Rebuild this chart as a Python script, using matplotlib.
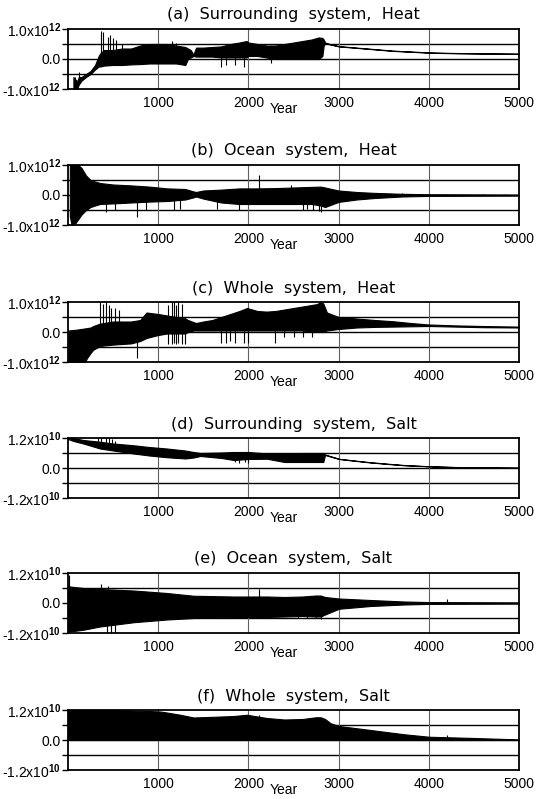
import matplotlib
matplotlib.use("Agg")
import numpy as np
import matplotlib.pyplot as plt

plt.rcParams['font.family'] = ['Liberation Sans', 'DejaVu Sans']
plt.rcParams['mathtext.fontset'] = 'custom'
plt.rcParams['mathtext.rm'] = 'Liberation Sans'
plt.rcParams['mathtext.bf'] = 'Liberation Sans:bold'

# ---- (a) Surrounding system, Heat  (units 1e12) ----
a_years = [60, 100, 120, 150, 200, 250, 300, 340, 360, 400, 500, 600, 700, 800, 900, 1000, 1100,
           1200, 1300, 1330, 1360, 1390, 1420, 1500, 1600, 1700, 1800, 1900, 1980, 2000, 2100,
           2200, 2300, 2400, 2500, 2600, 2700, 2780, 2820, 2835, 2850, 2900, 3000, 3200, 3400,
           3600, 3800, 4000, 4300, 4600, 5000]
a_upper = [-0.6, -0.75, -0.6, -0.6, -0.5, -0.4, -0.2, 0.1, 0.2, 0.3, 0.3, 0.35, 0.35, 0.45, 0.5,
           0.5, 0.5, 0.45, 0.4, 0.35, 0.3, 0.15, 0.38, 0.38, 0.4, 0.42, 0.5, 0.55, 0.6, 0.55, 0.5,
           0.45, 0.45, 0.5, 0.55, 0.6, 0.65, 0.72, 0.7, 0.65, 0.55, 0.5, 0.43, 0.38, 0.33,
           0.28, 0.25, 0.22, 0.2, 0.19, 0.18]
a_lower = [-1.0, -1.0, -0.85, -0.72, -0.6, -0.5, -0.35, -0.25, -0.25, -0.22, -0.2, -0.2, -0.18,
           -0.17, -0.15, -0.15, -0.15, -0.15, -0.2, 0.0, 0.05, 0.1, 0.08, 0.08, 0.08, 0.05, 0.05,
           0.05, 0.05, 0.1, 0.1, 0.05, 0.0, 0.0, 0.0, 0.0, 0.0, 0.0, 0.1, 0.45, 0.53, 0.49, 0.42,
           0.37, 0.32, 0.27, 0.24, 0.21, 0.19, 0.18, 0.17]
a_spike_years = [80, 125, 370, 390, 440, 470, 500, 530, 600, 1150, 1200, 1700, 1750, 1850, 1950, 2250]
a_spike_tops = [-0.6, -0.42, 0.95, 0.9, 0.75, 0.8, 0.7, 0.65, 0.5, 0.6, 0.55, 0.3, 0.3, 0.4, 0.5, 0.4]
a_spike_bottoms = [-1.0, -0.8, -0.1, -0.1, -0.1, -0.1, -0.1, -0.1, -0.1, -0.1, -0.1, -0.25, -0.2,
                   -0.2, -0.25, -0.12]

# ---- (b) Ocean system, Heat (units 1e12) ----
b_years = [20, 40, 80, 115, 150, 200, 250, 300, 355, 500, 700, 900, 1100, 1300, 1390, 1420, 1500,
           1700, 1900, 2100, 2300, 2500, 2700, 2800, 2850, 3000, 3200, 3400, 3700, 4000, 4500, 5000]
b_upper = [1.0, 1.0, 1.0, 1.0, 0.9, 0.65, 0.5, 0.45, 0.4, 0.35, 0.32, 0.28, 0.22, 0.2, 0.12, 0.1,
           0.15, 0.18, 0.22, 0.22, 0.23, 0.25, 0.27, 0.28, 0.25, 0.15, 0.1, 0.07, 0.04, 0.025, 0.02,
           0.015]
b_lower = [-0.7, -1.0, -0.95, -0.8, -0.65, -0.5, -0.4, -0.35, -0.3, -0.28, -0.25, -0.22, -0.2,
           -0.15, -0.08, -0.05, -0.12, -0.25, -0.3, -0.3, -0.3, -0.3, -0.3, -0.35, -0.4, -0.23,
           -0.15, -0.1, -0.05, -0.03, -0.025, -0.02]
b_spike_years = [420, 520, 760, 870, 1170, 1240, 1650, 1900, 2115, 2470, 2600, 2650, 2720, 2780,
                 2810, 3500, 3700, 3850, 4200, 4600, 4850]
b_spike_tops = [0.0, 0.0, 0.0, 0.0, 0.0, 0.0, 0.0, 0.0, 0.68, 0.35, 0.0, 0.0, 0.0, 0.0, 0.0, 0.08,
                0.06, 0.05, 0.05, 0.04, 0.04]
b_spike_bottoms = [-0.57, -0.5, -0.72, -0.5, -0.5, -0.45, -0.45, -0.5, 0.0, 0.0, -0.5, -0.45,
                   -0.5, -0.52, -0.55, 0.0, 0.0, 0.0, 0.0, 0.0, 0.0]

# ---- (c) Whole system, Heat (units 1e12) ----
c_years = [5, 100, 190, 210, 250, 280, 355, 400, 500, 600, 700, 800, 870, 1000, 1100, 1200, 1300,
           1330, 1390, 1420, 1500, 1600, 1700, 1800, 1900, 1985, 2100, 2200, 2300, 2400, 2500,
           2600, 2700, 2760, 2800, 2830, 2870, 3000, 3200, 3400, 3600, 3800, 4000, 4300, 4600, 5000]
c_upper = [0.05, 0.08, 0.12, 0.13, 0.15, 0.2, 0.28, 0.3, 0.35, 0.35, 0.35, 0.4, 0.65, 0.6, 0.55,
           0.5, 0.45, 0.4, 0.33, 0.3, 0.35, 0.4, 0.5, 0.6, 0.7, 0.8, 0.7, 0.68, 0.7, 0.75, 0.8,
           0.85, 0.9, 0.93, 1.0, 0.95, 0.65, 0.5, 0.45, 0.4, 0.36, 0.3, 0.25, 0.22, 0.2, 0.18]
c_lower = [-1.0, -1.0, -1.0, -0.87, -0.7, -0.59, -0.47, -0.45, -0.42, -0.4, -0.38, -0.3, -0.2,
           -0.1, -0.05, -0.05, -0.05, 0.0, 0.05, 0.05, 0.05, 0.05, 0.05, 0.05, 0.05, 0.05, 0.05,
           0.05, 0.05, 0.05, 0.05, 0.05, 0.0, 0.0, 0.0, 0.0, 0.05, 0.1, 0.15, 0.17, 0.18, 0.19,
           0.2, 0.18, 0.16, 0.15]
c_spike_years = [355, 385, 420, 450, 480, 520, 560, 765, 1110, 1150, 1170, 1200, 1220, 1260, 1300,
                 1700, 1750, 1800, 1850, 1950, 2000, 2290, 2400, 2500, 2600, 2700]
c_spike_tops = [1.0, 0.95, 1.0, 0.9, 0.8, 0.8, 0.75, 0.0, 0.9, 1.0, 1.0, 0.9, 1.0, 0.95, 0.5,
                0.3, 0.3, 0.4, 0.4, 0.5, 0.5, 0.3, 0.3, 0.3, 0.3, 0.3]
c_spike_bottoms = [-0.3, -0.3, -0.3, -0.3, -0.3, -0.3, -0.3, -0.87, -0.4, -0.4, -0.35, -0.4,
                   -0.35, -0.4, -0.4, -0.36, -0.36, -0.3, -0.36, -0.36, -0.36, -0.36, -0.18,
                   -0.18, -0.18, -0.18]

# ---- (d) Surrounding system, Salt (units 1e10) ----
d_years = [0, 60, 170, 355, 500, 726, 900, 1096, 1300, 1393, 1467, 1700, 1837, 2000, 2207, 2400,
           2600, 2800, 2830, 2850, 3004, 3200, 3355, 3550, 3726, 4004, 4300, 4600, 5000]
d_upper = [1.2, 1.2, 1.12, 1.05, 0.98, 0.91, 0.84, 0.78, 0.7, 0.64, 0.6, 0.62, 0.64, 0.64, 0.58,
           0.58, 0.6, 0.6, 0.6, 0.54, 0.37, 0.29, 0.23, 0.17, 0.12, 0.07, 0.04, 0.025, 0.012]
d_lower = [1.16, 1.08, 0.98, 0.78, 0.7, 0.58, 0.5, 0.43, 0.38, 0.42, 0.48, 0.4, 0.32, 0.36, 0.37,
           0.24, 0.24, 0.24, 0.24, 0.52, 0.36, 0.28, 0.22, 0.16, 0.11, 0.065, 0.035, 0.02, 0.01]
d_spike_years = [330, 370, 420, 460, 490, 520, 1850, 1900, 1960, 2000]
d_spike_tops = [1.2, 1.2, 1.2, 1.2, 1.15, 1.1, 0.6, 0.6, 0.6, 0.6]
d_spike_bottoms = [0.8, 0.8, 0.8, 0.8, 0.8, 0.8, 0.24, 0.22, 0.24, 0.22]

# ---- (e) Ocean system, Salt (units 1e10) ----
e_years = [0, 20, 170, 355, 726, 1096, 1393, 1837, 2207, 2400, 2600, 2750, 2800, 2850, 3004,
           3355, 3726, 4004, 4500, 5000]
e_upper = [0.72, 0.66, 0.6, 0.56, 0.5, 0.4, 0.29, 0.26, 0.26, 0.24, 0.26, 0.3, 0.3, 0.24, 0.18,
           0.12, 0.06, 0.036, 0.03, 0.024]
e_lower = [-1.2, -1.14, -1.07, -0.94, -0.77, -0.66, -0.6, -0.56, -0.56, -0.54, -0.52, -0.54,
           -0.54, -0.46, -0.23, -0.12, -0.06, -0.036, -0.03, -0.024]
e_spike_years = [10, 370, 440, 430, 480, 520, 2115, 2550, 2650, 2750, 2800, 4207]
e_spike_tops = [1.13, 0.76, 0.7, 0.0, 0.0, 0.0, 0.56, 0.0, 0.0, 0.0, 0.0, 0.18]
e_spike_bottoms = [0.0, 0.0, 0.0, -1.2, -1.2, -1.2, 0.0, -0.6, -0.6, -0.6, -0.62, 0.0]

# ---- (f) Whole system, Salt (units 1e10) ----
f_years = [0, 540, 700, 900, 1022, 1096, 1244, 1393, 1467, 1700, 1837, 1985, 2100, 2207, 2400,
           2600, 2748, 2800, 2850, 2911, 3004, 3355, 3726, 4004, 4470, 5000]
f_upper = [1.2, 1.2, 1.18, 1.16, 1.14, 1.1, 1.01, 0.9, 0.91, 0.94, 0.96, 1.01, 0.94, 0.88, 0.82,
           0.84, 0.91, 0.91, 0.84, 0.67, 0.56, 0.4, 0.23, 0.13, 0.084, 0.024]
f_lower = [0.0] * len(f_years)
f_spike_years = [2115, 4207]
f_spike_tops = [1.0, 0.22]
f_spike_bottoms = [0.0, 0.0]

panels = [
    ("(a)  Surrounding  system,  Heat", a_years, a_upper, a_lower,
     a_spike_years, a_spike_tops, a_spike_bottoms, 1.0, "1.0", "12"),
    ("(b)  Ocean  system,  Heat", b_years, b_upper, b_lower,
     b_spike_years, b_spike_tops, b_spike_bottoms, 1.0, "1.0", "12"),
    ("(c)  Whole  system,  Heat", c_years, c_upper, c_lower,
     c_spike_years, c_spike_tops, c_spike_bottoms, 1.0, "1.0", "12"),
    ("(d)  Surrounding  system,  Salt", d_years, d_upper, d_lower,
     d_spike_years, d_spike_tops, d_spike_bottoms, 1.2, "1.2", "10"),
    ("(e)  Ocean  system,  Salt", e_years, e_upper, e_lower,
     e_spike_years, e_spike_tops, e_spike_bottoms, 1.2, "1.2", "10"),
    ("(f)  Whole  system,  Salt", f_years, f_upper, f_lower,
     f_spike_years, f_spike_tops, f_spike_bottoms, 1.2, "1.2", "10"),
]

W, H = 537, 799
fig = plt.figure(figsize=(W / 100, H / 100), dpi=100)
tops = [29, 165, 302, 438, 573, 710]
ax_h = 60
left, right = 68, 519

for (title, yrs, up, lo, sy, st, sb, lim, mant, ex), top in zip(panels, tops):
    ax = fig.add_axes([left / W, 1 - (top + ax_h) / H, (right - left) / W, ax_h / H])
    ax.set_xlim(0, 5000)
    ax.set_ylim(-lim, lim)
    for yv in (-lim / 2, 0, lim / 2):
        ax.axhline(yv, color='black', lw=1.0, zorder=1)
    for xv in (1000, 2000, 3000, 4000):
        ax.axvline(xv, color='#606060', lw=0.8, zorder=1)
    ax.fill_between(yrs, lo, up, color='black', lw=0.8, zorder=2)
    ax.vlines(sy, sb, st, color='black', lw=0.8, zorder=2)

    ax.set_xticks([1000, 2000, 3000, 4000, 5000])
    ax.set_xticklabels(["1000", "2000", "3000", "4000", "5000"])
    ax.set_yticks([-lim, -lim / 2, 0, lim / 2, lim])
    ax.set_yticklabels([f"-{mant}x10$^{{\\mathbf{{{ex}}}}}$", "", "0.0", "",
                        f"{mant}x10$^{{\\mathbf{{{ex}}}}}$"])
    ax.tick_params(axis='x', length=0, pad=5, labelsize=10)
    ax.tick_params(axis='y', length=4, width=1, direction='out', pad=1, labelsize=10)
    for s in ax.spines.values():
        s.set_linewidth(1.3)
    ax.text(0.5, 1 + 14 / ax_h, title, transform=ax.transAxes, ha='center', va='center',
            fontsize=11.5, family='DejaVu Sans')
    ax.text((284 - left) / (right - left), -20 / ax_h, "Year", transform=ax.transAxes,
            ha='center', va='center', fontsize=10)

fig.savefig("out.png", dpi=100)
